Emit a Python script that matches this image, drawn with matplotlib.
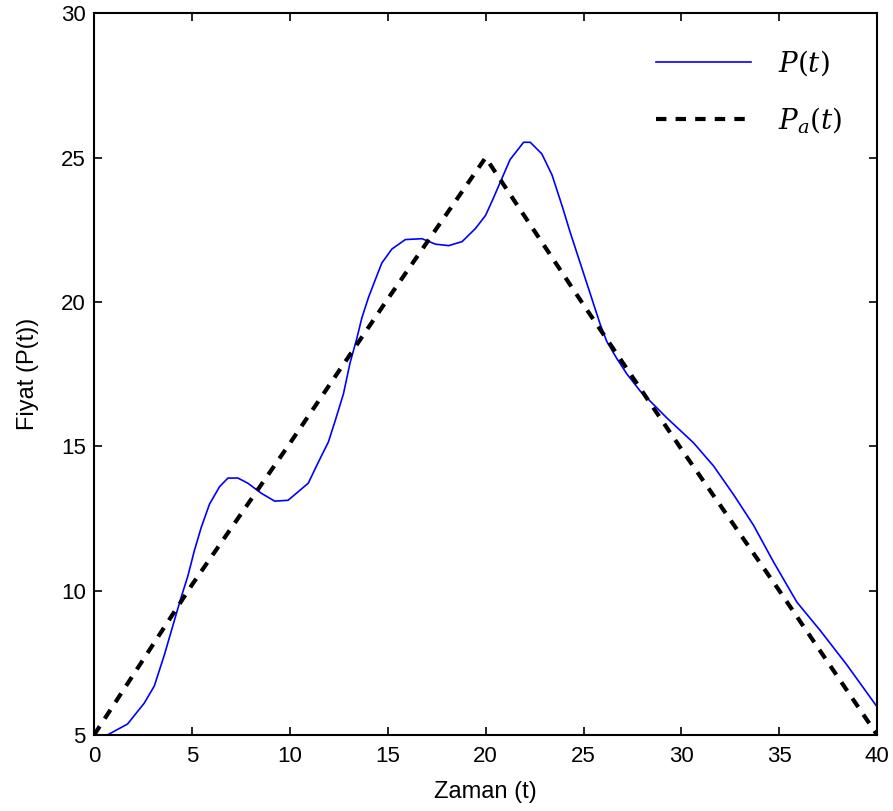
import numpy as np
import matplotlib.pyplot as plt

# P(t)
t_p = [0, 0.68, 1.71, 2.56, 3.08, 3.59, 4.1, 4.44, 4.79, 5.13, 5.47, 5.9, 6.41, 6.84,
       7.35, 7.86, 8.55, 9.23, 9.91, 10.94, 11.45, 11.97, 12.31, 12.74, 13.08, 13.42,
       13.68, 14.02, 14.36, 14.7, 15.21, 15.9, 16.75, 17.44, 18.12, 18.8, 19.49, 20.0,
       20.4, 20.91, 21.25, 21.94, 22.28, 22.87, 23.39, 23.9, 24.32, 24.83, 25.34, 25.85,
       26.19, 26.7, 27.21, 27.9, 29.26, 30.62, 31.64, 32.66, 33.68, 34.7, 35.9, 37.09,
       38.45, 40.0]
p = [5.0, 5.0, 5.38, 6.1, 6.7, 7.77, 8.96, 9.75, 10.5, 11.4, 12.18, 13.0, 13.6, 13.9,
     13.9, 13.72, 13.37, 13.1, 13.13, 13.72, 14.44, 15.15, 15.87, 16.82, 17.9, 18.73,
     19.45, 20.16, 20.76, 21.35, 21.83, 22.16, 22.19, 22.0, 21.95, 22.09, 22.55, 23.0,
     23.6, 24.4, 24.93, 25.53, 25.53, 25.13, 24.4, 23.34, 22.41, 21.35, 20.29, 19.23,
     18.63, 18.04, 17.51, 16.91, 15.98, 15.12, 14.32, 13.33, 12.27, 11.0, 9.6, 8.62,
     7.43, 5.97]

# Pa(t) approximation
t_a = [0, 5, 10, 15, 20, 25, 30, 35, 40]
pa = [5.0, 10.2, 15.1, 20.1, 25.0, 19.9, 14.9, 10.0, 5.0]

plt.rcParams['font.family'] = ['Liberation Sans', 'DejaVu Sans']
plt.rcParams['mathtext.fontset'] = 'dejavuserif'

fig = plt.figure(figsize=(8.93, 8.11), dpi=100)
ax = fig.add_axes([0.1053, 0.0937, 0.877, 0.89])

ax.plot(t_p, p, color='#0000ff', lw=1.2, label=r'$P(t)$')
ax.plot(t_a, pa, color='black', lw=3, ls=(0, (2.5, 2.2)), label=r'$P_a(t)$')

ax.set_xlim(0, 40)
ax.set_ylim(5, 30)
ax.set_xticks(np.arange(0, 41, 5))
ax.set_yticks(np.arange(5, 31, 5))
ax.tick_params(direction='in', top=True, right=True, length=6, width=1.2, labelsize=16)
ax.tick_params(axis='x', pad=8)
ax.tick_params(axis='y', pad=6)
for s in ax.spines.values():
    s.set_linewidth(1.5)

ax.set_xlabel('Zaman (t)', fontsize=17, labelpad=10)
ax.set_ylabel('Fiyat (P(t))', fontsize=17, labelpad=16)

leg = ax.legend(loc='upper right', frameon=False, fontsize=20, handlelength=3.4,
                labelspacing=1.0, handletextpad=1.0, borderaxespad=0.85)

fig.savefig('out.png', dpi=100)
